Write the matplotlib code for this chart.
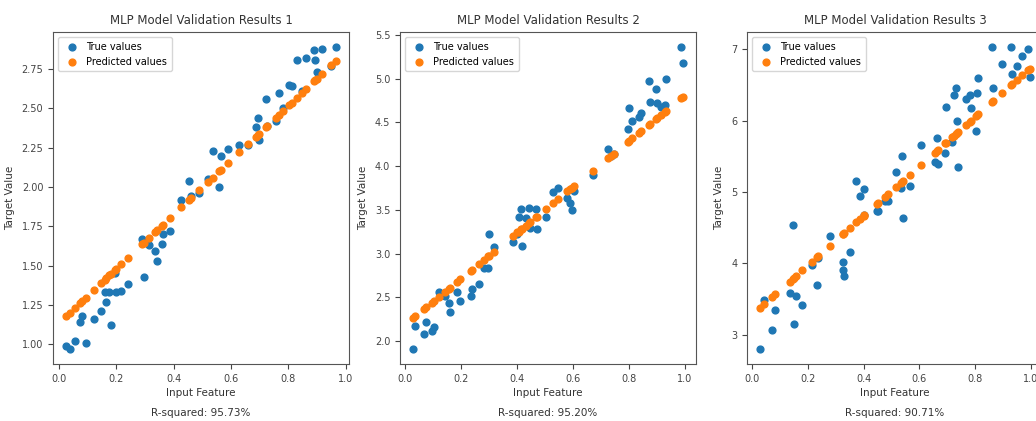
import matplotlib
matplotlib.use("Agg")
import matplotlib.pyplot as plt

# ---------------- data ----------------
x1 = [0.026, 0.037, 0.055, 0.093, 0.074, 0.081, 0.122, 0.147, 0.165, 0.159, 0.176, 0.180,
      0.200, 0.197, 0.217, 0.240, 0.290, 0.296, 0.313, 0.336, 0.342, 0.358, 0.362, 0.388,
      0.426, 0.455, 0.460, 0.490, 0.519, 0.536, 0.559, 0.565, 0.589, 0.629, 0.658, 0.693,
      0.698, 0.687, 0.722, 0.727, 0.756, 0.766, 0.780, 0.803, 0.812, 0.829, 0.849, 0.861,
      0.891, 0.895, 0.901, 0.917, 0.950, 0.965]
true1 = [0.99, 0.97, 1.02, 1.01, 1.14, 1.18, 1.16, 1.21, 1.27, 1.33, 1.33, 1.12,
         1.33, 1.45, 1.34, 1.38, 1.67, 1.43, 1.63, 1.59, 1.53, 1.64, 1.70, 1.72,
         1.92, 2.04, 1.94, 1.96, 2.05, 2.23, 2.00, 2.20, 2.24, 2.27, 2.27, 2.44,
         2.30, 2.38, 2.56, 2.39, 2.42, 2.60, 2.50, 2.65, 2.64, 2.81, 2.61, 2.82,
         2.87, 2.81, 2.73, 2.88, 2.77, 2.89]
pred1 = [1.180, 1.199, 1.230, 1.296, 1.263, 1.275, 1.346, 1.389, 1.420, 1.409, 1.439, 1.446,
         1.480, 1.475, 1.510, 1.549, 1.636, 1.646, 1.675, 1.715, 1.725, 1.753, 1.760, 1.805,
         1.870, 1.920, 1.929, 1.981, 2.031, 2.060, 2.100, 2.110, 2.152, 2.221, 2.271, 2.331,
         2.340, 2.321, 2.381, 2.390, 2.440, 2.457, 2.481, 2.521, 2.537, 2.566, 2.600, 2.621,
         2.673, 2.680, 2.690, 2.718, 2.775, 2.801]

x2 = [0.029, 0.035, 0.074, 0.068, 0.094, 0.101, 0.119, 0.142, 0.160, 0.155, 0.185, 0.197,
      0.235, 0.237, 0.265, 0.280, 0.297, 0.300, 0.318, 0.386, 0.401, 0.405, 0.414, 0.416,
      0.431, 0.441, 0.447, 0.467, 0.470, 0.505, 0.530, 0.545, 0.580, 0.590, 0.595, 0.602,
      0.670, 0.724, 0.735, 0.745, 0.797, 0.802, 0.812, 0.837, 0.843, 0.872, 0.875, 0.896,
      0.902, 0.914, 0.928, 0.932, 0.986, 0.992]
true2 = [1.91, 2.17, 2.22, 2.08, 2.12, 2.16, 2.56, 2.52, 2.33, 2.43, 2.56, 2.46,
         2.51, 2.60, 2.65, 2.84, 2.83, 3.22, 3.07, 3.13, 3.22, 3.42, 3.51, 3.09,
         3.41, 3.52, 3.29, 3.51, 3.28, 3.42, 3.70, 3.75, 3.63, 3.58, 3.50, 3.71,
         3.90, 4.19, 4.12, 4.14, 4.42, 4.66, 4.52, 4.56, 4.61, 4.97, 4.73, 4.88,
         4.72, 4.68, 4.70, 4.99, 5.36, 5.18]
pred2 = [2.266, 2.282, 2.384, 2.368, 2.436, 2.455, 2.502, 2.562, 2.609, 2.596, 2.675, 2.706,
         2.806, 2.811, 2.884, 2.924, 2.968, 2.976, 3.023, 3.201, 3.241, 3.251, 3.275, 3.280,
         3.319, 3.345, 3.361, 3.414, 3.421, 3.513, 3.579, 3.618, 3.710, 3.736, 3.749, 3.767,
         3.945, 4.087, 4.116, 4.142, 4.278, 4.291, 4.317, 4.383, 4.399, 4.475, 4.483, 4.538,
         4.553, 4.585, 4.621, 4.632, 4.773, 4.789]

x3 = [0.030, 0.044, 0.071, 0.083, 0.135, 0.151, 0.147, 0.159, 0.180, 0.214, 0.234, 0.237,
      0.278, 0.325, 0.327, 0.330, 0.350, 0.374, 0.388, 0.400, 0.402, 0.447, 0.453, 0.475,
      0.487, 0.516, 0.536, 0.533, 0.540, 0.566, 0.605, 0.655, 0.667, 0.662, 0.693, 0.694,
      0.717, 0.724, 0.730, 0.735, 0.740, 0.766, 0.780, 0.785, 0.806, 0.810, 0.804, 0.861,
      0.865, 0.896, 0.928, 0.932, 0.950, 0.968, 0.991, 0.995]
true3 = [2.80, 3.48, 3.06, 3.34, 3.58, 3.15, 4.54, 3.54, 3.41, 3.98, 3.69, 4.08,
         4.38, 4.02, 3.91, 3.82, 4.16, 5.15, 4.95, 5.04, 4.67, 4.73, 4.73, 4.87,
         4.87, 5.28, 5.51, 5.06, 4.63, 5.09, 5.66, 5.42, 5.39, 5.75, 5.55, 6.19,
         5.70, 6.36, 6.45, 5.99, 5.35, 6.30, 6.36, 6.18, 6.39, 6.59, 5.85, 7.03,
         6.45, 6.80, 7.03, 6.65, 6.76, 6.90, 7.01, 6.61]
pred3 = [3.380, 3.429, 3.522, 3.564, 3.744, 3.800, 3.786, 3.828, 3.901, 4.019, 4.088, 4.098,
         4.241, 4.404, 4.411, 4.421, 4.491, 4.574, 4.622, 4.664, 4.671, 4.827, 4.848, 4.924,
         4.966, 5.067, 5.136, 5.126, 5.150, 5.240, 5.375, 5.549, 5.590, 5.573, 5.681, 5.684,
         5.764, 5.788, 5.809, 5.826, 5.844, 5.934, 5.983, 6.000, 6.073, 6.087, 6.066, 6.264,
         6.278, 6.385, 6.496, 6.510, 6.573, 6.635, 6.715, 6.729]

titles = ["MLP Model Validation Results 1", "MLP Model Validation Results 2",
          "MLP Model Validation Results 3"]
r2_labels = ["R-squared: 95.73%", "R-squared: 95.20%", "R-squared: 90.71%"]
xs = [x1, x2, x3]
trues = [true1, true2, true3]
preds = [pred1, pred2, pred3]

# ---------------- figure ----------------
W, H = 1036, 421
fig = plt.figure(figsize=(W / 100, H / 100), dpi=100)
plt.rcParams['font.family'] = ['DejaVu Sans']

lefts_px = [53, 400, 747]
ax_w_px, top_px, bot_px = 296, 32, 364

for i in range(3):
    ax = fig.add_axes([lefts_px[i] / W, (H - bot_px) / H, ax_w_px / W, (bot_px - top_px) / H])
    ax.scatter(xs[i], trues[i], s=24, color='#1f77b4', label='True values')
    ax.scatter(xs[i], preds[i], s=24, color='#ff7f0e', label='Predicted values')
    ax.set_title(titles[i], fontsize=8.5, color='#333333')
    ax.set_xlabel('Input Feature', fontsize=7.5, color='#333333', labelpad=3)
    ax.set_ylabel('Target Value', fontsize=7.5, color='#333333', labelpad=5)
    ax.text(0.5, -0.132, r2_labels[i], transform=ax.transAxes, ha='center', va='top',
            fontsize=7.5, color='#333333')
    ax.tick_params(labelsize=7, colors='#444444')
    ax.legend(loc='upper left', fontsize=7, handletextpad=0.4, borderpad=0.5)
    for sp in ax.spines.values():
        sp.set_color('#555555')

fig.savefig('out.png', dpi=100)
